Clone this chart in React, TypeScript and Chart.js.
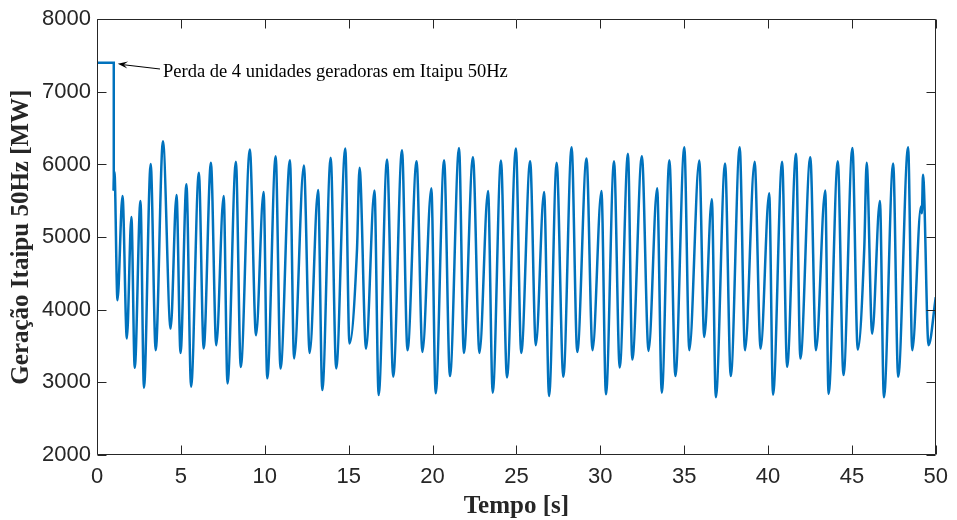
import React, { useEffect, useRef } from "react";
import { Chart, registerables } from "chart.js";

Chart.register(...registerables);

// ---- Data ----
const X_TICKS = [0, 5, 10, 15, 20, 25, 30, 35, 40, 45, 50];
const Y_TICKS = [2000, 3000, 4000, 5000, 6000, 7000, 8000];

// pre-disturbance level and the loss event
const STEP_TIME = [0, 1.0, 1.0];
const STEP_MW = [7400, 7400, 5640];

// oscillation after the loss (extrema and a few shape points)
const OSC_TIME = [
  1.0, 1.04, 1.22, 1.52, 1.78, 2.05, 2.25, 2.59, 2.8, 3.2, 3.5, 3.93, 4.39, 4.74, 4.98, 5.33, 5.61, 6.07, 6.36, 6.79,
  7.11, 7.55, 7.78, 8.28, 8.57, 9.11, 9.48, 9.93, 10.15, 10.65, 10.94, 11.5, 11.75, 12.33, 12.68, 13.18, 13.43, 13.93,
  14.26, 14.8, 15.05, 15.5, 15.65, 16.04, 16.54, 16.79, 17.29, 17.66, 18.18, 18.51, 19.05, 19.4, 19.93, 20.19, 20.69,
  21.04, 21.58, 21.87, 22.41, 22.8, 23.31, 23.59, 24.08, 24.44, 24.97, 25.29, 25.82, 26.16, 26.65, 26.95, 27.4, 27.8,
  28.29, 28.63, 29.18, 29.54, 30.07, 30.34, 30.82, 31.16, 31.65, 31.91, 32.48, 32.88, 33.39, 33.67, 34.12, 34.48,
  35.01, 35.31, 35.9, 36.2, 36.65, 36.89, 37.44, 37.78, 38.31, 38.63, 39.2, 39.56, 40.07, 40.3, 40.84, 41.14, 41.67,
  41.93, 42.52, 42.86, 43.41, 43.61, 44.16, 44.5, 45.03, 45.35, 45.74, 45.88, 46.21, 46.67, 46.91, 47.46, 47.76,
  48.35, 48.6, 49.12, 49.17, 49.24, 49.57, 50.0,
];
const OSC_MW = [
  5640, 5900, 4130, 5566, 3603, 5278, 3200, 5497, 2926, 6008, 3442, 6319, 3740, 5579, 3405, 5726, 2940, 5885, 3466, 6022,
  3511, 5566, 2986, 6036, 3213, 6205, 3648, 5620, 3055, 6114, 3191, 6059, 3328, 5986, 3406, 5648, 2894, 6091,
  3191, 6219, 3534, 4835, 5954, 3465, 5643, 2826, 6068, 3077, 6196, 3442, 6045, 3419, 5671, 2849, 6059,
  3086, 6228, 3406, 6100, 3406, 5634, 2858, 6054, 3068, 6219, 3406, 6045, 3511, 5621, 2812, 6022, 3077,
  6237, 3419, 6082, 3442, 5634, 2835, 6045, 3205, 6146, 3314, 6114, 3433, 5671, 2858, 6059, 3086,
  6237, 3442, 6054, 3625, 5520, 2794, 6013, 3086, 6237, 3442, 6036, 3465, 5602, 2830, 6036, 3214, 6146,
  3328, 6100, 3442, 5643, 2840, 6045, 3100, 6228, 3451, 4858, 6022, 3671, 5497, 2794, 6013, 3077,
  6237, 3442, 5420, 5330, 5860, 3511, 4173,
];

const X_TITLE = "Tempo [s]";
const Y_TITLE = "Geração Itaipu 50Hz [MW]";
const NOTE = "Perda de 4 unidades geradoras em Itaipu 50Hz";
const NOTE_AT = { x: 1.0, y: 7400 };

const LINE_COLOR = "#0072BD";
const AXIS_COLOR = "#262626";

const framePlugin = {
  id: "frame",
  afterDraw(chart: any) {
    const { ctx, chartArea: a, scales } = chart;
    const xs = scales.x;
    const ys = scales.y;
    ctx.save();
    ctx.strokeStyle = AXIS_COLOR;
    ctx.lineWidth = 1;
    const L = Math.round(a.left) + 0.5;
    const R = Math.round(a.right) - 0.5;
    const T = Math.round(a.top) + 0.5;
    const B = Math.round(a.bottom) - 0.5;
    ctx.beginPath();
    ctx.moveTo(L, T);
    ctx.lineTo(R, T);
    ctx.lineTo(R, B);
    ctx.lineTo(L, B);
    ctx.closePath();
    ctx.stroke();
    const tl = 9;
    ctx.beginPath();
    for (const v of X_TICKS) {
      const px = Math.round(xs.getPixelForValue(v)) + 0.5;
      ctx.moveTo(px, B);
      ctx.lineTo(px, B - tl);
      ctx.moveTo(px, T);
      ctx.lineTo(px, T + tl);
    }
    for (const v of Y_TICKS) {
      const py = Math.round(ys.getPixelForValue(v)) + 0.5;
      ctx.moveTo(L, py);
      ctx.lineTo(L + tl, py);
      ctx.moveTo(R, py);
      ctx.lineTo(R - tl, py);
    }
    ctx.stroke();

    // axis titles
    ctx.fillStyle = AXIS_COLOR;
    ctx.font = "bold 25px 'Liberation Serif', 'Times New Roman', serif";
    ctx.textAlign = "center";
    ctx.textBaseline = "alphabetic";
    ctx.fillText(X_TITLE, (a.left + a.right) / 2, 513);
    ctx.save();
    ctx.translate(28, (a.top + a.bottom) / 2);
    ctx.rotate(-Math.PI / 2);
    ctx.fillText(Y_TITLE, 0, 0);
    ctx.restore();

    // annotation with arrow
    const tipX = xs.getPixelForValue(NOTE_AT.x) + 4;
    const tipY = ys.getPixelForValue(NOTE_AT.y) + 1;
    const tailX = 160;
    const tailY = 69;
    ctx.strokeStyle = "#000";
    ctx.fillStyle = "#000";
    ctx.lineWidth = 1;
    ctx.beginPath();
    ctx.moveTo(tailX, tailY);
    ctx.lineTo(tipX + 6, tipY + 1);
    ctx.stroke();
    const ang = Math.atan2(tipY - tailY, tipX - tailX);
    const hl = 10;
    const hw = 3.5;
    ctx.beginPath();
    ctx.moveTo(tipX, tipY);
    ctx.lineTo(tipX - hl * Math.cos(ang) + hw * Math.sin(ang), tipY - hl * Math.sin(ang) - hw * Math.cos(ang));
    ctx.lineTo(tipX - 0.6 * hl * Math.cos(ang), tipY - 0.6 * hl * Math.sin(ang));
    ctx.lineTo(tipX - hl * Math.cos(ang) - hw * Math.sin(ang), tipY - hl * Math.sin(ang) + hw * Math.cos(ang));
    ctx.closePath();
    ctx.fill();
    ctx.font = "18.5px 'Liberation Serif', 'Times New Roman', serif";
    ctx.textAlign = "left";
    ctx.textBaseline = "alphabetic";
    ctx.fillText(NOTE, 163, 76.5);
    ctx.restore();
  },
};

export default function App() {
  const ref = useRef<HTMLCanvasElement>(null);
  useEffect(() => {
    if (!ref.current) return;
    const chart = new Chart(ref.current, {
      type: "line",
      data: {
        datasets: [
          {
            data: STEP_TIME.map((t, i) => ({ x: t, y: STEP_MW[i] })),
            borderColor: LINE_COLOR,
            borderWidth: 2.5,
            pointRadius: 0,
            tension: 0,
          },
          {
            data: OSC_TIME.map((t, i) => ({ x: t, y: OSC_MW[i] })),
            borderColor: LINE_COLOR,
            borderWidth: 2.5,
            pointRadius: 0,
            cubicInterpolationMode: "monotone",
          },
        ],
      },
      plugins: [framePlugin],
      options: {
        animation: false,
        responsive: false,
        devicePixelRatio: 1,
        layout: { padding: { top: 17, right: 16, left: 0, bottom: 0 } },
        plugins: { legend: { display: false }, tooltip: { enabled: false } },
        scales: {
          x: {
            type: "linear",
            min: 0,
            max: 50,
            afterFit: (s: any) => {
              s.height = 65;
            },
            afterBuildTicks: (s: any) => {
              s.ticks = X_TICKS.map((v) => ({ value: v }));
            },
            ticks: {
              color: AXIS_COLOR,
              font: { family: "'Liberation Sans', Arial, sans-serif", size: 22 },
              padding: 9,
              maxRotation: 0,
              autoSkip: false,
              callback: (v: any) => String(v),
            },
            grid: { display: false, drawTicks: false },
            border: { display: false },
          },
          y: {
            type: "linear",
            min: 2000,
            max: 8000,
            afterFit: (s: any) => {
              s.width = 97;
            },
            afterBuildTicks: (s: any) => {
              s.ticks = Y_TICKS.map((v) => ({ value: v }));
            },
            ticks: {
              color: AXIS_COLOR,
              font: { family: "'Liberation Sans', Arial, sans-serif", size: 22 },
              padding: 6,
              autoSkip: false,
              callback: (v: any) => String(v),
            },
            grid: { display: false, drawTicks: false },
            border: { display: false },
          },
        },
      },
    } as any);
    return () => chart.destroy();
  }, []);
  return (
    <div style={{ position: "absolute", left: 0, top: 0, width: 957, height: 520, background: "#fff" }}>
      <canvas ref={ref} width={957} height={520} style={{ display: "block", width: 957, height: 520 }} />
    </div>
  );
}
